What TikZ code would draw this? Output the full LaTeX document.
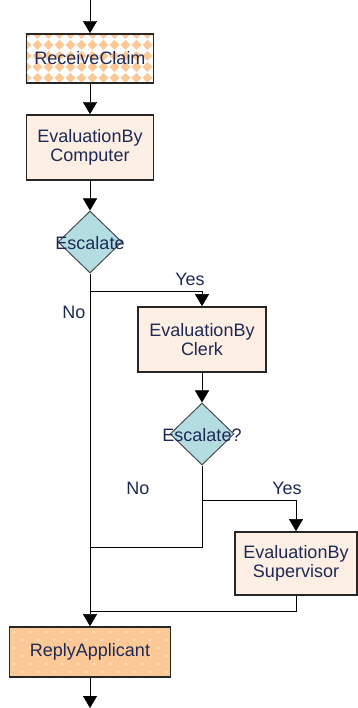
\documentclass[tikz,border=0pt]{standalone}
\usepackage{fontspec}
\usepackage{xcolor}
\usepackage{tikz}
\usetikzlibrary{calc}
\usetikzlibrary{shapes.geometric, arrows.meta, positioning, backgrounds}
\newfontfamily\chartfont{Liberation Sans}
\definecolor{boxfill}{HTML}{FDEFE3}
\definecolor{orng}{HTML}{FCC896}
\definecolor{testfill}{HTML}{B3DDE1}
\definecolor{txt}{HTML}{1E2A55}

\begin{document}
\begin{tikzpicture}[x=1pt,y=-1pt,line width=1.8pt,
                    >={Triangle[width=14pt,length=12pt]},
                    every node/.style={font=\chartfont\fontsize{18}{19}\selectfont,text=txt},
                    task node/.style={rectangle,draw=black!85,line width=1.8pt,align=center,
                                      minimum width=127pt,inner sep=0pt},
                    test node/.style={diamond,draw=black!70,fill=testfill,line width=1pt,
                                      minimum width=64pt,minimum height=62pt,inner sep=0pt}]
  \useasboundingbox (0,0) rectangle (358,708);

  \node[task node,minimum height=49pt] (receive) at (90,58.5) {ReceiveClaim};
  \node[task node,fill=boxfill,minimum height=65pt] (comp) at (90,147.5) {EvaluationBy\\Computer};
  \node[test node] (esc1) at (90,242) {};
  \node (esc1 text) at (90,243) {Escalate};
  \node[task node,fill=boxfill,minimum width=128pt,minimum height=65pt] (clerk) at (202,339.5) {EvaluationBy\\Clerk};
  \node[test node] (esc2) at (202,434) {};
  \node (esc2 text) at (202,435) {Escalate?};
  \node[task node,fill=boxfill,minimum width=122pt,minimum height=63pt] (sup) at (296,563.5) {EvaluationBy\\Supervisor};
  \node[task node,minimum width=161pt,minimum height=50pt] (reply) at (90,652) {ReplyApplicant};

  % patterned fills
  \begin{pgfonlayer}{background}
    \begin{scope}
      \fill[white] (receive.north west) rectangle (receive.south east);
      \clip (receive.north west) rectangle (receive.south east);
      \foreach \i in {0,...,12}
        \foreach \j in {0,...,5}
          \fill[orng] ({26.5+\i*11},{34+\j*11}) +(-5,0) -- +(0,-5) -- +(5,0) -- +(0,5) -- cycle;
    \end{scope}
    \begin{scope}
      \fill[orng] (reply.north west) rectangle (reply.south east);
      \clip (reply.north west) rectangle (reply.south east);
      \foreach \i in {0,...,10}
        \foreach \j in {0,...,3} {
          \fill[white] ({14+\i*16},{632+\j*16}) circle (0.8);
          \fill[white] ({22+\i*16},{640+\j*16}) circle (0.8);
        }
    \end{scope}
  \end{pgfonlayer}

  \coordinate (in) at (90,0);
  \coordinate (out) at (90,708);
  \coordinate (yes1) at (90,291);
  \coordinate (yes2) at (202,500);
  \coordinate (no2) at (202,547);
  \coordinate (no2 end) at (90,547);
  \coordinate (sup out) at (296,611);
  \coordinate (merge) at (90,611);

  \draw[->] (in) -- (receive);
  \draw[->] (receive) -- (comp);
  \draw[->] (comp) -- (esc1);
  \draw[->] (esc1.south) -- (yes1) -| (clerk.north);
  \draw[->] (yes1) -- (reply.north);
  \draw[->] (clerk) -- (esc2);
  \draw[->] (esc2.south) -- (yes2) -| (sup.north);
  \draw (yes2) -- (no2) -- (no2 end);
  \draw (sup) -- (sup out) -- (merge);
  \draw[->] (reply) -- (out);

  \node (yes lbl1) at (190,279) {Yes};
  \node (no lbl1) at (74,312) {No};
  \node (yes lbl2) at (287,488) {Yes};
  \node (no lbl2) at (138,488) {No};
\end{tikzpicture}
\end{document}
